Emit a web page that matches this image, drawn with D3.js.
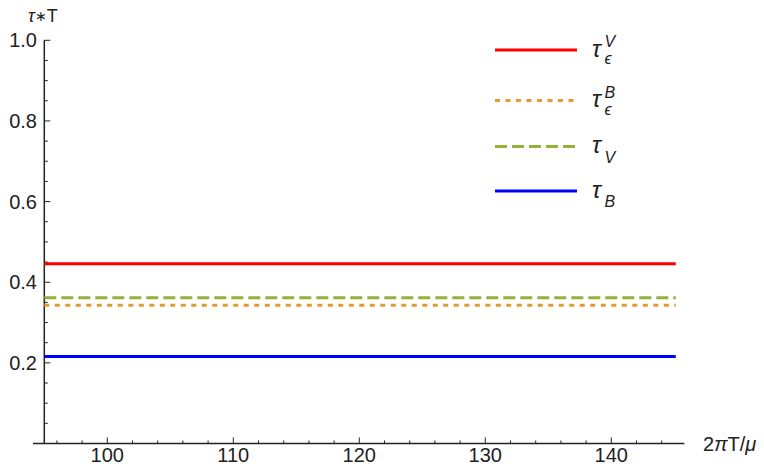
<!DOCTYPE html>
<html>
<head>
<meta charset="utf-8">
<script src="https://cdn.jsdelivr.net/npm/d3@7"></script>
<style>
  body { margin: 0; background: #fff; }
  svg text { font-family: "Liberation Sans", Arial, sans-serif; }
</style>
</head>
<body>
<svg id="chart" width="764" height="473"></svg>
<script>
// data
var xRange = [95, 145];
var seriesNames = ["tauEpsV", "tauEpsB", "tauV", "tauB"];
var seriesValues = [0.446, 0.343, 0.3615, 0.216];
var seriesColors = ["#ff0000", "#e39b2c", "#92b23a", "#0000ff"];
var seriesDash = [null, "5,5.5", "12,5", null];
var xTicks = [100, 110, 120, 130, 140];
var yTicks = [0.2, 0.4, 0.6, 0.8, 1.0];

var svg = d3.select("#chart");

var x = d3.scaleLinear().domain([95, 145]).range([44.3, 674.3]);
var y = d3.scaleLinear().domain([0, 1]).range([443.5, 40.3]);

var axisColor = "#222";

// x axis
var gx = svg.append("g");
gx.append("line")
  .attr("x1", x(94.1)).attr("x2", x(145.8))
  .attr("y1", y(0)).attr("y2", y(0))
  .attr("stroke", axisColor).attr("stroke-width", 1.5);
var xMinor = d3.range(96, 146, 2).filter(function(d) { return d % 10 != 0; });
gx.selectAll("line.minor").data(xMinor).join("line")
  .classed("minor", true)
  .attr("x1", d => x(d)).attr("x2", d => x(d))
  .attr("y1", y(0)).attr("y2", y(0) - 3)
  .attr("stroke", axisColor).attr("stroke-width", 1);
gx.selectAll("line.major").data(xTicks).join("line")
  .classed("major", true)
  .attr("x1", d => x(d)).attr("x2", d => x(d))
  .attr("y1", y(0)).attr("y2", y(0) - 6)
  .attr("stroke", axisColor).attr("stroke-width", 1);
gx.selectAll("text").data(xTicks).join("text")
  .attr("x", d => x(d)).attr("y", 462)
  .attr("text-anchor", "middle")
  .attr("font-size", 20)
  .attr("fill", "#222")
  .text(d => d);

// y axis
var gy = svg.append("g");
gy.append("line")
  .attr("x1", x(95)).attr("x2", x(95))
  .attr("y1", y(0)).attr("y2", y(1))
  .attr("stroke", axisColor).attr("stroke-width", 1.5);
var yMinor = d3.range(1, 20).map(d => d * 0.05).filter(function(d) { return Math.round(d * 20) % 4 != 0; });
gy.selectAll("line.minor").data(yMinor).join("line")
  .classed("minor", true)
  .attr("x1", x(95)).attr("x2", x(95) + 3.5)
  .attr("y1", d => y(d)).attr("y2", d => y(d))
  .attr("stroke", axisColor).attr("stroke-width", 1);
gy.selectAll("line.major").data(yTicks).join("line")
  .classed("major", true)
  .attr("x1", x(95)).attr("x2", x(95) + 6)
  .attr("y1", d => y(d)).attr("y2", d => y(d))
  .attr("stroke", axisColor).attr("stroke-width", 1);
gy.selectAll("text").data(yTicks).join("text")
  .attr("x", 37).attr("y", d => y(d) + 7)
  .attr("text-anchor", "end")
  .attr("font-size", 20)
  .attr("fill", "#222")
  .text(d => d3.format(".1f")(d));

// axis labels
svg.append("text")
  .attr("x", 28).attr("y", 22)
  .attr("font-size", 18).attr("fill", "#222")
  .html('<tspan font-style="italic">τ</tspan><tspan font-size="14" dy="-1">∗</tspan><tspan dy="1">T</tspan>');
svg.append("text")
  .attr("x", 703).attr("y", 451)
  .attr("font-size", 20).attr("fill", "#222")
  .html('2<tspan font-style="italic">π</tspan>T/<tspan font-style="italic">μ</tspan>');

// series lines
var glines = svg.append("g");
glines.selectAll("line").data(seriesValues).join("line")
  .attr("x1", x(xRange[0])).attr("x2", x(xRange[1]) + 1.5)
  .attr("y1", d => y(d)).attr("y2", d => y(d))
  .attr("stroke", (d, i) => seriesColors[i])
  .attr("stroke-width", 3)
  .attr("stroke-dasharray", (d, i) => seriesDash[i]);

// legend
var legendY = [50, 100.5, 146.5, 191];
var legendLabels = [
  { sub: "ϵ", sup: "V" },
  { sub: "ϵ", sup: "B" },
  { sub: "V", sup: null },
  { sub: "B", sup: null }
];
var gl = svg.append("g");
gl.selectAll("line").data(seriesNames).join("line")
  .attr("x1", 495).attr("x2", 577)
  .attr("y1", (d, i) => legendY[i]).attr("y2", (d, i) => legendY[i])
  .attr("stroke", (d, i) => seriesColors[i])
  .attr("stroke-width", 3)
  .attr("stroke-dasharray", (d, i) => seriesDash[i]);

legendLabels.forEach(function(lab, i) {
  var ly = legendY[i];
  gl.append("text")
    .attr("x", 592).attr("y", ly + 6.5)
    .attr("fill", "#222").attr("font-style", "italic")
    .attr("font-size", 24).text("τ");
  gl.append("text")
    .attr("x", 604.5).attr("y", ly + (lab.sup ? 14 : 16))
    .attr("fill", "#222").attr("font-style", "italic")
    .attr("font-size", 16).text(lab.sub);
  if (lab.sup) {
    gl.append("text")
      .attr("x", 604.5).attr("y", ly - 3)
      .attr("fill", "#222").attr("font-style", "italic")
      .attr("font-size", 16).text(lab.sup);
  }
});
</script>
</body>
</html>
